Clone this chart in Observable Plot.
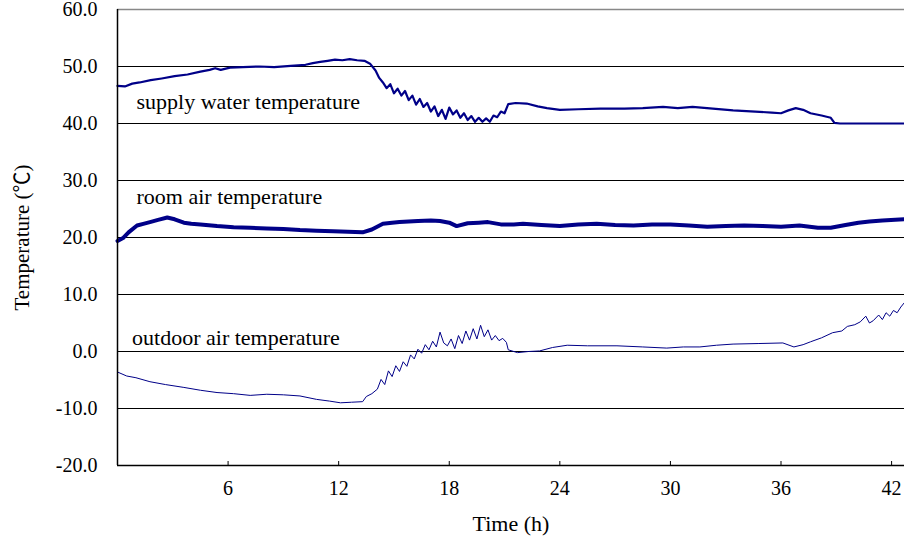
<!DOCTYPE html>
<html><head><meta charset="utf-8">
<script src="https://cdn.jsdelivr.net/npm/d3@7"></script>
<script src="https://cdn.jsdelivr.net/npm/@observablehq/plot@0.6"></script>
<style>body{margin:0;background:#fff} svg text{font-family:"Liberation Serif","Times New Roman","Noto Sans CJK SC",serif !important}</style>
</head><body><div id="chart"></div>
<script>
const xTicks = [6, 12, 18, 24, 30, 36, 42];
const yTicks = [-20, -10, 0, 10, 20, 30, 40, 50, 60];

// [time (h), temperature (°C)]
const supplyWater = [[0,46.6],[0.4,46.5],[0.8,47.0],[1.2,47.2],[1.8,47.6],[2.4,47.9],[3.1,48.3],[3.8,48.6],[4.5,49.1],[5.0,49.4],[5.3,49.7],[5.6,49.4],[6.1,49.8],[6.8,49.9],[7.7,50.0],[8.5,49.9],[9.4,50.1],[10.2,50.3],[10.6,50.6],[11.0,50.8],[11.4,51.0],[11.8,51.2],[12.2,51.1],[12.6,51.3],[13.0,51.1],[13.4,51.0],[13.7,50.5],[14.0,49.3],[14.2,48.0],[14.4,47.2],[14.6,46.2],[14.8,46.9],[15.0,45.3],[15.2,46.1],[15.4,44.9],[15.6,45.7],[15.8,44.1],[16.0,44.9],[16.2,43.3],[16.4,44.3],[16.6,42.9],[16.8,43.6],[17.0,42.1],[17.2,43.0],[17.4,41.3],[17.6,42.4],[17.8,40.8],[18.0,42.8],[18.2,41.6],[18.4,42.3],[18.6,41.0],[18.8,41.8],[19.0,40.6],[19.2,41.3],[19.4,40.3],[19.6,41.0],[19.8,40.3],[20.0,40.9],[20.2,40.3],[20.4,41.4],[20.6,41.1],[20.8,42.1],[21.0,41.8],[21.2,43.4],[21.6,43.6],[22.2,43.5],[22.8,43.0],[23.3,42.7],[24.0,42.4],[25.0,42.5],[26.2,42.6],[27.5,42.6],[28.5,42.7],[29.6,42.9],[30.4,42.7],[31.2,42.9],[32.3,42.6],[33.4,42.3],[34.6,42.1],[35.5,41.9],[36.0,41.8],[36.4,42.3],[36.8,42.7],[37.2,42.4],[37.6,41.8],[38.2,41.4],[38.7,41.0],[38.9,40.1],[39.2,40.0],[42.7,40.0]];

const roomAir = [[0,19.4],[0.3,19.9],[0.6,20.9],[1.06,22.1],[1.4,22.4],[1.76,22.7],[2.2,23.1],[2.7,23.5],[3.1,23.2],[3.6,22.6],[4.0,22.4],[4.5,22.3],[5.4,22.0],[6.3,21.8],[7.2,21.7],[8.1,21.6],[9.0,21.5],[9.9,21.3],[10.8,21.2],[11.7,21.1],[12.5,21.0],[13.3,20.9],[13.8,21.4],[14.4,22.4],[14.9,22.6],[15.3,22.7],[16.3,22.9],[17.0,23.0],[17.5,22.9],[18.0,22.6],[18.4,22.0],[19.0,22.5],[19.6,22.6],[20.1,22.7],[20.8,22.3],[21.5,22.3],[22.0,22.4],[23.0,22.2],[24.0,22.0],[25.0,22.3],[26.0,22.4],[27.0,22.2],[28.0,22.1],[29.0,22.3],[30.0,22.3],[31.0,22.1],[32.0,21.9],[33.0,22.0],[34.0,22.1],[35.0,22.0],[36.0,21.9],[37.0,22.1],[38.0,21.7],[38.7,21.7],[39.5,22.2],[40.2,22.6],[40.8,22.8],[41.5,23.0],[42.2,23.1],[42.7,23.2]];

const outdoorAir = [[0,-3.6],[0.5,-4.3],[1.0,-4.6],[1.76,-5.3],[2.6,-5.8],[3.6,-6.3],[4.5,-6.8],[5.4,-7.2],[6.3,-7.4],[7.2,-7.7],[8.1,-7.5],[9.0,-7.6],[9.9,-7.8],[10.8,-8.4],[11.5,-8.7],[12.1,-9.0],[12.7,-8.9],[13.3,-8.8],[13.5,-7.9],[13.8,-7.4],[14.1,-6.6],[14.3,-4.9],[14.5,-5.8],[14.7,-3.4],[14.9,-4.4],[15.1,-2.5],[15.3,-3.5],[15.5,-1.8],[15.7,-2.6],[15.9,-0.6],[16.1,-1.3],[16.3,0.4],[16.5,-0.3],[16.7,1.2],[16.9,0.3],[17.1,1.8],[17.3,0.8],[17.5,3.4],[17.7,1.5],[17.9,1.0],[18.1,2.2],[18.3,0.5],[18.5,2.8],[18.7,1.4],[18.9,3.6],[19.1,2.0],[19.3,4.0],[19.5,2.2],[19.7,4.6],[19.9,2.6],[20.1,3.8],[20.3,2.0],[20.5,2.8],[20.7,1.9],[20.9,2.3],[21.1,1.6],[21.2,0.3],[21.7,-0.2],[22.3,0.0],[22.9,0.1],[23.6,0.7],[24.4,1.1],[25.5,1.0],[27.1,1.0],[28.5,0.8],[29.8,0.6],[30.7,0.8],[31.6,0.8],[32.5,1.1],[33.4,1.3],[34.8,1.4],[36.1,1.5],[36.7,0.8],[37.2,1.2],[37.6,1.7],[38.2,2.4],[38.8,3.3],[39.3,3.6],[39.6,4.4],[40.0,4.7],[40.3,5.2],[40.6,6.2],[40.8,5.0],[41.0,5.4],[41.3,6.4],[41.5,5.6],[41.7,6.8],[41.9,6.2],[42.1,7.2],[42.3,6.8],[42.5,7.8],[42.7,8.6]];

const seriesNames = ["supply water temperature", "room air temperature", "outdoor air temperature"];
const labelAnchors = [[1.03, 43.8], [1.03, 27.2], [0.79, 2.34]];
const seriesLabels = seriesNames.map((name, i) => ({name, t: labelAnchors[i][0], v: labelAnchors[i][1]}));

const rows = arr => arr.map(([t, v]) => ({t, v}));
const navy = "#000088";
const serif = '"Liberation Serif","Times New Roman","Noto Sans CJK SC",serif';

const chart = Plot.plot({
  width: 904, height: 546,
  marginLeft: 117, marginRight: 0, marginTop: 9, marginBottom: 81,
  style: {fontFamily: serif, fontSize: "20px", color: "#000", background: "#fff", overflow: "visible"},
  x: {domain: [0, 42.7]},
  y: {domain: [-20, 60]},
  marks: [
    Plot.ruleY(yTicks.filter(d => d > -20 && d < 60), {stroke: "#000", strokeWidth: 1}),
    Plot.ruleY([60], {stroke: "#888", strokeWidth: 1.5}),
    Plot.line(rows(outdoorAir), {x: "t", y: "v", stroke: navy, strokeWidth: 1}),
    Plot.line(rows(supplyWater), {x: "t", y: "v", stroke: navy, strokeWidth: 2.2}),
    Plot.line(rows(roomAir), {x: "t", y: "v", stroke: navy, strokeWidth: 4}),
    Plot.ruleX([0], {stroke: "#000", strokeWidth: 1.5}),
    Plot.ruleY([-20], {stroke: "#000", strokeWidth: 1.5}),
    Plot.axisY(yTicks, {tickSize: 0, tickPadding: 20, tickFormat: d => d.toFixed(1), label: null, fontSize: 20, fontFamily: serif}),
    Plot.axisX(xTicks, {tickSize: 4, dy: -4, tickPadding: 15, label: null, fontSize: 20, fontFamily: serif}),
    Plot.text(seriesLabels, {x: "t", y: "v", text: "name", textAnchor: "start", fontSize: 22, fontFamily: serif}),
    Plot.text(["Temperature (℃)"], {frameAnchor: "left", dx: -95, rotate: -90, textAnchor: "middle", fontSize: 21, fontFamily: serif}),
    Plot.text(["Time (h)"], {frameAnchor: "bottom", dy: 65, textAnchor: "middle", fontSize: 22, fontFamily: serif})
  ]
});
document.getElementById("chart").appendChild(chart);
</script>
</body></html>
